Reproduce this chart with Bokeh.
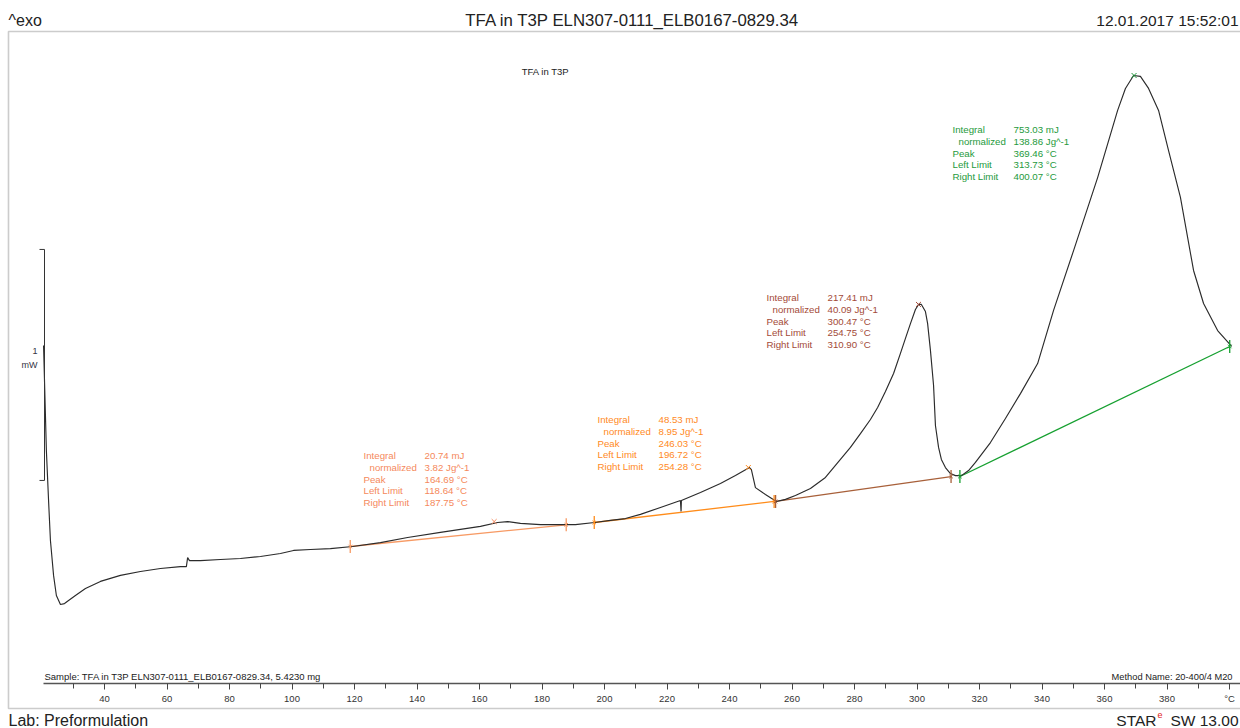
from bokeh.plotting import figure
from bokeh.models import Label, FixedTicker, BoxAnnotation
from bokeh.embed import file_html
from bokeh.resources import INLINE

# ---------------- data ----------------
temperature_c = [20.5, 20.8, 21.4, 22.1, 22.7, 23.7, 24.6, 25.9, 27.2, 28.5, 30.7, 33.9, 38.7, 45.1,
                 51.5, 57.9, 64.3, 66.2, 66.6, 67.2, 70.7, 77.1, 83.5, 89.9, 96.3, 100.5, 105.9, 112.3,
                 119.4, 128.3, 137.0, 147.5, 160.3, 165.8, 169.0, 173.1, 179.5, 185.9, 190.7, 196.8,
                 201.9, 206.7, 211.5, 217.9, 224.3, 224.5, 224.6, 230.7, 237.1, 241.9, 246.4, 247.0,
                 248.3, 251.5, 255.0, 257.9, 261.1, 265.9, 270.7, 275.5, 278.7, 281.9, 285.1, 287.4,
                 289.9, 292.5, 294.7, 296.6, 297.9, 299.5, 300.5, 301.4, 302.7, 303.4, 304.3, 305.3,
                 305.9, 306.9, 307.8, 309.1, 310.7, 312.3, 314.2, 316.5, 318.7, 323.5, 328.3, 333.1,
                 338.6, 343.7, 350.1, 357.8, 364.2, 366.7, 369.3, 371.5, 374.1, 377.3, 380.5, 384.3,
                 388.5, 391.7, 396.2, 400.7]
heat_flow_mw = [1.463, 1.312, 1.009, 0.792, 0.619, 0.468, 0.381, 0.342, 0.346, 0.359, 0.381, 0.411,
                0.442, 0.468, 0.485, 0.498, 0.506, 0.506, 0.545, 0.532, 0.532, 0.537, 0.541, 0.550,
                0.563, 0.576, 0.580, 0.584, 0.593, 0.610, 0.632, 0.654, 0.680, 0.697, 0.701, 0.693,
                0.688, 0.688, 0.688, 0.697, 0.706, 0.714, 0.732, 0.762, 0.792, 0.745, 0.792, 0.827,
                0.866, 0.900, 0.935, 0.926, 0.848, 0.818, 0.788, 0.797, 0.814, 0.844, 0.892, 0.970,
                1.022, 1.082, 1.143, 1.195, 1.264, 1.342, 1.429, 1.506, 1.558, 1.619, 1.641, 1.641,
                1.610, 1.558, 1.442, 1.290, 1.117, 1.022, 0.970, 0.935, 0.909, 0.900, 0.900, 0.922,
                0.957, 1.043, 1.147, 1.255, 1.385, 1.615, 1.874, 2.190, 2.481, 2.576, 2.632, 2.628,
                2.576, 2.481, 2.307, 2.104, 1.788, 1.645, 1.528, 1.459]

# peak evaluations
integral_mj = ["20.74", "48.53", "217.41", "753.03"]
normalized_jg = ["3.82", "8.95", "40.09", "138.86"]
peak_temp = [164.69, 246.03, 300.47, 369.46]
peak_hf = [0.701, 0.935, 1.641, 2.632]
left_limit = [118.64, 196.72, 254.75, 313.73]
left_hf = [0.593, 0.697, 0.788, 0.896]
right_limit = [187.75, 254.28, 310.90, 400.07]
right_hf = [0.687, 0.788, 0.896, 1.459]
text_colors = ["#F5895C", "#FF8A1E", "#A34A38", "#1E9A3C"]
line_colors = ["#F79A64", "#FF8C1A", "#A8603A", "#16A030"]

x_ticks = [40, 60, 80, 100, 120, 140, 160, 180, 200, 220, 240, 260, 280, 300, 320, 340, 360, 380, 400]
x_minor = [30, 50, 70, 90, 110, 130, 150, 170, 190, 210, 230, 250, 270, 290, 310, 330, 350, 370, 390]

scale_bar_bottom = 0.879
scale_bar_len = 1.0

FONT = "Liberation Sans"
W, H = 1240, 728

# ---------------- figure ----------------
p = figure(width=W, height=H, output_backend="svg", toolbar_location=None,
           x_range=(6.72, 403.52), y_range=(-0.1948, 2.9567),
           y_axis_location=None, min_border=0)
p.grid.visible = False
p.outline_line_color = None
p.background_fill_color = "white"
p.border_fill_color = "white"

# page frame box
p.add_layout(BoxAnnotation(left=8, right=W + 2, top=H - 31, bottom=H - 708,
                           left_units="screen", right_units="screen",
                           top_units="screen", bottom_units="screen",
                           fill_alpha=0, line_color="#555555", line_width=1.6))

ax = p.xaxis[0]
ax.fixed_location = 0
ax.bounds = (20.4, 403.5)
ax.ticker = FixedTicker(ticks=x_ticks, minor_ticks=x_minor)
ax.major_label_overrides = {400: "°C"}
ax.major_tick_in = 0
ax.major_tick_out = 6
ax.minor_tick_in = 0
ax.minor_tick_out = 5
ax.axis_line_color = "#555555"
ax.axis_line_width = 1.6
ax.major_tick_line_color = "#444444"
ax.minor_tick_line_color = "#444444"
ax.major_label_text_font = FONT
ax.major_label_text_font_size = "9.5px"
ax.major_label_text_color = "#333333"
ax.major_label_standoff = 3

# baselines
for i in range(4):
    p.line([left_limit[i], right_limit[i]], [left_hf[i], right_hf[i]],
           line_color=line_colors[i], line_width=1.3)

# curve
p.line(temperature_c, heat_flow_mw, line_color="#2b2b2b", line_width=1.15)

# limit markers and peak markers
for i in range(4):
    p.scatter([left_limit[i], right_limit[i]], [left_hf[i], right_hf[i]], marker="dash",
              angle=1.5708, size=13, line_color=line_colors[i], line_width=1.3)
    p.scatter([left_limit[i], right_limit[i]], [left_hf[i], right_hf[i]], marker="x",
              size=5, line_color=line_colors[i], line_width=1)
    p.scatter([peak_temp[i]], [peak_hf[i]], marker="x", size=7,
              line_color=text_colors[i], line_width=1)

# scale bar (1 mW)
p.line([20.8, 20.8], [scale_bar_bottom, scale_bar_bottom + scale_bar_len], line_color="#333333", line_width=1)
p.line([19.2, 20.8], [scale_bar_bottom, scale_bar_bottom], line_color="#333333", line_width=1)
p.line([19.2, 20.8], [scale_bar_bottom + scale_bar_len, scale_bar_bottom + scale_bar_len],
       line_color="#333333", line_width=1)


def lab(px, py, text, size="9.7px", color="#333333", align="left"):
    # px, py: page pixel positions -> screen units (from bottom-left of the frame)
    p.add_layout(Label(x=px, y=H - py, x_units="screen", y_units="screen", text=text,
                       text_font=FONT, text_font_size=size, text_color=color,
                       text_align=align, text_baseline="middle"))


# header / footer
lab(8, 20, "^exo", size="16px", color="#222222")
lab(632, 20, "TFA in T3P ELN307-0111_ELB0167-0829.34", size="16.8px", color="#222222", align="center")
lab(1238, 20, "12.01.2017 15:52:01", size="15.5px", color="#222222", align="right")
lab(8, 720, "Lab: Preformulation", size="16px", color="#222222")
lab(1238, 720, "SW 13.00", size="15.5px", color="#222222", align="right")
lab(1157, 714, "e", size="9px", color="#E02020")
lab(1156, 720, "STAR", size="15.5px", color="#222222", align="right")

# inside frame texts
lab(545, 71, "TFA in T3P", size="9.5px", color="#222222", align="center")
lab(44, 676, "Sample: TFA in T3P ELN307-0111_ELB0167-0829.34, 5.4230 mg", size="9.5px", color="#222222")
lab(1232, 676, "Method Name: 20-400/4 M20", size="9.3px", color="#222222", align="right")
lab(37, 350, "1", size="9px", color="#333344", align="right")
lab(37, 364, "mW", size="9px", color="#333344", align="right")

# peak annotation blocks
blocks = [(363, 455), (597, 419), (766, 297), (952, 129)]
for i, (bx, by) in enumerate(blocks):
    c = text_colors[i]
    rows = [("Integral", f"{integral_mj[i]} mJ"),
            ("normalized", f"{normalized_jg[i]} Jg^-1"),
            ("Peak", f"{peak_temp[i]:.2f} °C"),
            ("Left Limit", f"{left_limit[i]:.2f} °C"),
            ("Right Limit", f"{right_limit[i]:.2f} °C")]
    for k, (a, b) in enumerate(rows):
        yy = by + k * 11.8
        lab(bx + (6 if k == 1 else 0), yy, a, color=c)
        lab(bx + 61, yy, b, color=c)

open("out.html", "w").write(file_html(p, INLINE))
